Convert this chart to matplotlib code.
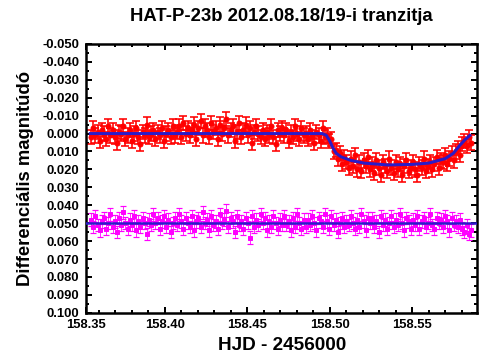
import matplotlib
matplotlib.use("Agg")
import matplotlib.pyplot as plt
from matplotlib.ticker import MultipleLocator, FuncFormatter

plt.rcParams['font.family'] = ['Liberation Sans', 'DejaVu Sans']
plt.rcParams['font.weight'] = 'bold'

# observation times (HJD - 2456000), shared by target and comparison
hjd = [
    158.3555, 158.3568, 158.3581, 158.3594, 158.3607, 158.3620, 158.3633, 158.3646, 158.3659, 158.3672,
    158.3685, 158.3698, 158.3711, 158.3724, 158.3737, 158.3750, 158.3763, 158.3776, 158.3789, 158.3802,
    158.3815, 158.3828, 158.3841, 158.3854, 158.3867, 158.3880, 158.3893, 158.3906, 158.3919, 158.3932,
    158.3945, 158.3958, 158.3971, 158.3984, 158.3997, 158.4010, 158.4023, 158.4036, 158.4049, 158.4062,
    158.4075, 158.4088, 158.4101, 158.4114, 158.4127, 158.4140, 158.4153, 158.4166, 158.4179, 158.4192,
    158.4205, 158.4218, 158.4231, 158.4244, 158.4257, 158.4270, 158.4283, 158.4296, 158.4309, 158.4322,
    158.4335, 158.4348, 158.4361, 158.4374, 158.4387, 158.4400, 158.4413, 158.4426, 158.4439, 158.4452,
    158.4465, 158.4478, 158.4491, 158.4504, 158.4517, 158.4530, 158.4543, 158.4556, 158.4569, 158.4582,
    158.4595, 158.4608, 158.4621, 158.4634, 158.4647, 158.4660, 158.4673, 158.4686, 158.4699, 158.4712,
    158.4725, 158.4738, 158.4751, 158.4764, 158.4777, 158.4790, 158.4803, 158.4816, 158.4829, 158.4842,
    158.4855, 158.4868, 158.4881, 158.4894, 158.4907, 158.4920, 158.4933, 158.4946, 158.4959, 158.4972,
    158.4985, 158.4998, 158.5011, 158.5024, 158.5037, 158.5050, 158.5063, 158.5076, 158.5089, 158.5102,
    158.5115, 158.5128, 158.5141, 158.5154, 158.5167, 158.5180, 158.5193, 158.5206, 158.5219, 158.5232,
    158.5245, 158.5258, 158.5271, 158.5284, 158.5297, 158.5310, 158.5323, 158.5336, 158.5349, 158.5362,
    158.5375, 158.5388, 158.5401, 158.5414, 158.5427, 158.5440, 158.5453, 158.5466, 158.5479, 158.5492,
    158.5505, 158.5518, 158.5531, 158.5544, 158.5557, 158.5570, 158.5583, 158.5596, 158.5609, 158.5622,
    158.5635, 158.5648, 158.5661, 158.5674, 158.5687, 158.5700, 158.5713, 158.5726, 158.5739, 158.5752,
    158.5765, 158.5778, 158.5791, 158.5804, 158.5817, 158.5830, 158.5843, 158.5856,
]

# differential magnitude of HAT-P-23 (red)
target_mag = [
    0.002, -0.003, 0.001, -0.001, 0.004, -0.002, 0.000, 0.003, -0.004, 0.001,
    -0.002, 0.002, 0.005, -0.001, 0.000, -0.004, 0.003, 0.001, -0.002, 0.004,
    0.000, -0.003, 0.002, 0.006, -0.001, 0.001, -0.005, 0.002, 0.000, -0.002,
    0.003, -0.001, 0.001, -0.003, 0.004, 0.000, -0.002, 0.002, -0.004, 0.001,
    -0.001, -0.004, 0.002, -0.006, 0.000, -0.003, 0.001, -0.002, -0.005, 0.003,
    -0.003, -0.007, 0.001, -0.004, -0.002, 0.002, -0.006, -0.001, -0.003, 0.003,
    -0.005, 0.000, -0.003, -0.008, 0.001, -0.002, -0.004, 0.004, -0.001, -0.006,
    0.002, -0.002, -0.005, 0.001, -0.003, 0.005, -0.001, -0.004, 0.000, 0.002,
    -0.002, 0.003, -0.001, 0.001, -0.004, 0.002, 0.006, -0.002, 0.000, -0.003,
    0.001, -0.002, 0.004, -0.001, 0.002, -0.004, 0.000, 0.003, -0.003, 0.001,
    0.000, 0.003, -0.002, 0.002, 0.005, -0.001, 0.001, 0.004, -0.003, 0.002,
    0.001, 0.004, 0.003, 0.010, 0.009, 0.014, 0.011, 0.017, 0.013, 0.016,
    0.019, 0.014, 0.018, 0.012, 0.020, 0.016, 0.021, 0.015, 0.018, 0.013,
    0.020, 0.017, 0.022, 0.015, 0.019, 0.023, 0.016, 0.018, 0.021, 0.014,
    0.019, 0.022, 0.016, 0.020, 0.017, 0.023, 0.018, 0.015, 0.021, 0.019,
    0.016, 0.020, 0.023, 0.017, 0.019, 0.014, 0.021, 0.018, 0.016, 0.020,
    0.017, 0.013, 0.019, 0.015, 0.016, 0.012, 0.017, 0.014, 0.011, 0.015,
    0.010, 0.008, 0.012, 0.006, 0.004, 0.007, 0.002, 0.005,
]

# comparison star check (magenta), offset to 0.05
check_mag = [
    0.048, 0.052, 0.046, 0.051, 0.054, 0.049, 0.047, 0.053, 0.050, 0.045,
    0.052, 0.049, 0.055, 0.047, 0.051, 0.044, 0.050, 0.053, 0.048, 0.051,
    0.046, 0.054, 0.049, 0.052, 0.047, 0.050, 0.056, 0.048, 0.051, 0.045,
    0.050, 0.047, 0.053, 0.049, 0.046, 0.052, 0.048, 0.055, 0.050, 0.047,
    0.051, 0.045, 0.049, 0.053, 0.047, 0.050, 0.052, 0.046, 0.054, 0.049,
    0.047, 0.052, 0.044, 0.050, 0.048, 0.054, 0.046, 0.051, 0.049, 0.053,
    0.045, 0.050, 0.048, 0.043, 0.052, 0.047, 0.049, 0.055, 0.046, 0.051,
    0.049, 0.053, 0.047, 0.050, 0.058, 0.046, 0.052, 0.048, 0.051, 0.045,
    0.050, 0.047, 0.054, 0.049, 0.052, 0.046, 0.050, 0.053, 0.048, 0.051,
    0.046, 0.051, 0.049, 0.054, 0.047, 0.052, 0.045, 0.050, 0.053, 0.048,
    0.052, 0.048, 0.051, 0.046, 0.050, 0.054, 0.047, 0.049, 0.052, 0.045,
    0.049, 0.053, 0.046, 0.051, 0.048, 0.055, 0.050, 0.047, 0.052, 0.049,
    0.051, 0.046, 0.050, 0.053, 0.048, 0.052, 0.045, 0.049, 0.054, 0.047,
    0.050, 0.047, 0.052, 0.049, 0.055, 0.046, 0.051, 0.048, 0.053, 0.050,
    0.046, 0.052, 0.048, 0.051, 0.045, 0.050, 0.054, 0.047, 0.049, 0.053,
    0.048, 0.051, 0.046, 0.053, 0.049, 0.047, 0.052, 0.050, 0.045, 0.051,
    0.053, 0.047, 0.050, 0.048, 0.052, 0.046, 0.049, 0.054, 0.047, 0.051,
    0.049, 0.052, 0.048, 0.053, 0.055, 0.051, 0.056, 0.054,
]

target_err = 0.004
check_err = 0.0035

# fitted transit model
model_t = [158.355, 158.4955, 158.498, 158.500, 158.502, 158.504, 158.507, 158.513,
           158.521, 158.535, 158.550, 158.560, 158.570, 158.575, 158.579, 158.582, 158.585]
model_mag = [0.000, 0.000, 0.001, 0.004, 0.008, 0.011, 0.013, 0.015,
             0.0165, 0.0175, 0.0172, 0.0165, 0.014, 0.011, 0.0065, 0.0035, 0.001]
check_level = 0.050

fig = plt.figure(figsize=(7, 5), dpi=72)
ax = fig.add_axes([0.171, 0.131, 0.776, 0.747])

ax.errorbar(hjd, target_mag, yerr=target_err, fmt='o', color='#ff0000', ms=5,
            elinewidth=1.6, capsize=4, capthick=1.6)
ax.errorbar(hjd, check_mag, yerr=check_err, fmt='s', color='#ff00ff', ms=4,
            elinewidth=0.8, capsize=3, capthick=1.2)
ax.plot(model_t, model_mag, color='#2a1bc8', lw=3, zorder=5)
ax.axhline(check_level, color='#2a1bc8', lw=2.5, zorder=5)

ax.set_xlim(158.3525, 158.5895)
ax.set_ylim(0.100, -0.050)

ax.set_xticks([158.3525, 158.40, 158.45, 158.50, 158.55])
ax.set_xticklabels(['158.35', '158.40', '158.45', '158.50', '158.55'])
ax.xaxis.set_minor_locator(MultipleLocator(0.01))
ax.yaxis.set_major_locator(MultipleLocator(0.01))
ax.yaxis.set_minor_locator(MultipleLocator(0.005))
ax.yaxis.set_major_formatter(FuncFormatter(lambda v, p: f"{v + 0.0:.3f}".replace('-0.000', '0.000')))

ax.tick_params(which='both', direction='in', top=True, right=True, width=2,
               labelsize=13, colors='black')
ax.tick_params(axis='y', which='major', length=6, pad=7)
ax.tick_params(axis='x', which='major', length=6, pad=6)
ax.tick_params(which='minor', length=3)
for s in ax.spines.values():
    s.set_linewidth(2.5)

ax.set_title('HAT-P-23b 2012.08.18/19-i tranzitja', fontsize=18.5,
             fontweight='bold', pad=23)
ax.set_xlabel('HJD - 2456000', fontsize=19, fontweight='bold', labelpad=6)
ax.set_ylabel('Differenciális magnitúdó', fontsize=18.5, fontweight='bold', labelpad=8)

fig.savefig('out.png', dpi=72, facecolor='white')
